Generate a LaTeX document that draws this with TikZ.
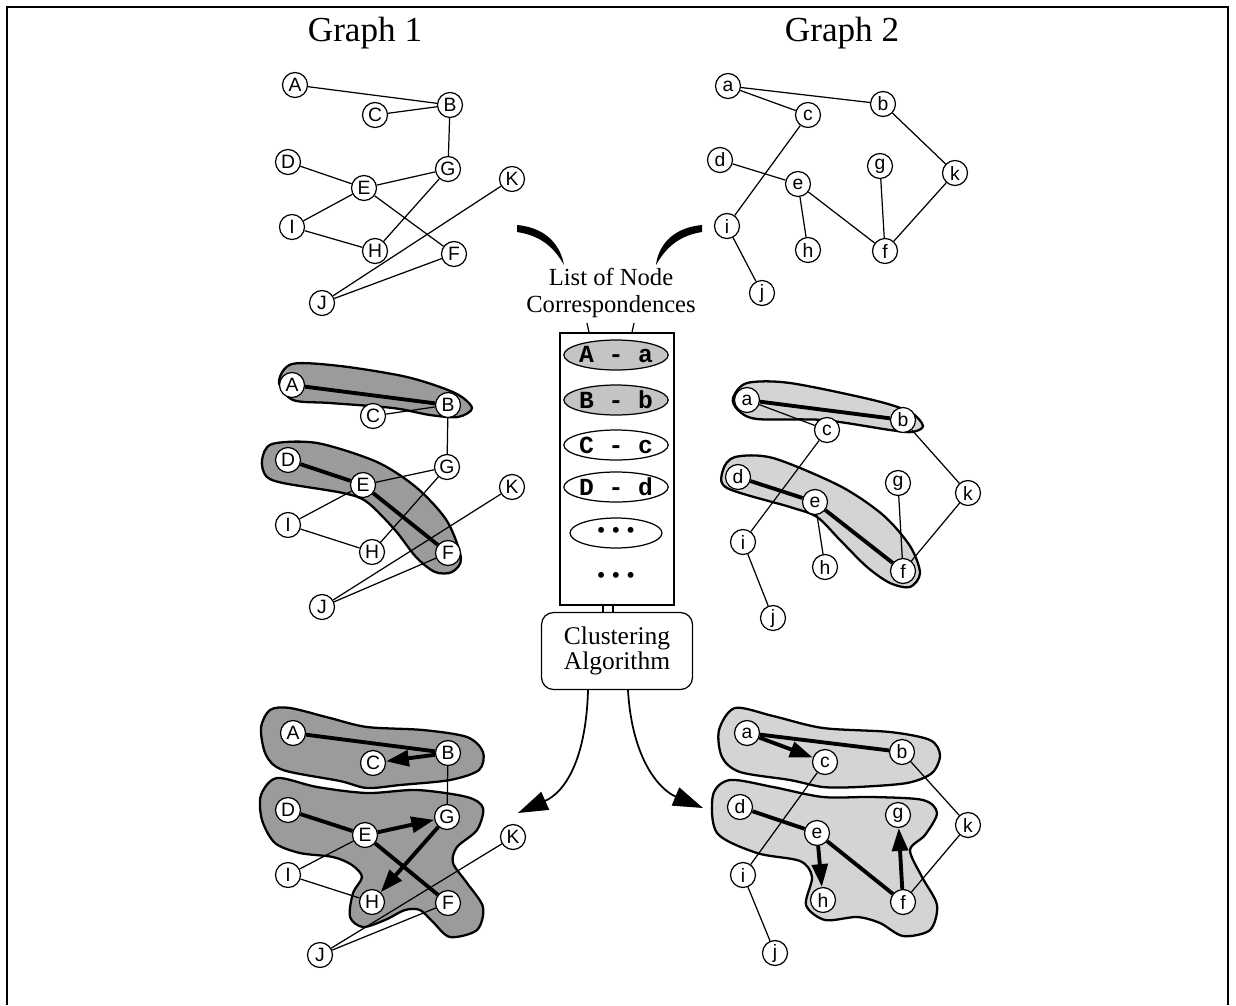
\documentclass[tikz,border=0pt]{standalone}
\usepackage{fontspec}
\setmainfont{Liberation Serif}
\setsansfont{Liberation Sans}
\setmonofont{Liberation Mono}
\usetikzlibrary{arrows.meta,shapes.geometric}
\definecolor{clusdark}{RGB}{155,155,155}
\definecolor{cluslight}{RGB}{212,212,212}
\definecolor{pairfill}{RGB}{196,196,196}

\begin{document}
\begin{tikzpicture}[
    x=0.02cm, y=-0.02cm,
    vert/.style={draw,circle,fill=white,inner sep=0pt,minimum size=0.5cm,line width=0.7pt,font=\sffamily\fontsize{11}{11}\selectfont},
    edge/.style={line width=0.7pt},
    match/.style={line width=2.2pt},
    move/.style={line width=2.2pt,-{Triangle[length=13pt,width=9pt]}},
    clusA/.style={draw,fill=clusdark,line width=1.3pt},
    clusB/.style={draw,fill=cluslight,line width=1.3pt},
    pair/.style={draw,ellipse,inner sep=0pt,minimum width=1.84cm,minimum height=0.6cm,line width=0.7pt,font=\ttfamily\bfseries\fontsize{14}{14}\selectfont},
    dots/.style={font=\fontsize{14}{14}\selectfont},
    title/.style={font=\fontsize{20}{24}\selectfont},
    lbl/.style={align=center,font=\fontsize{14}{15.3}\selectfont},
    flow/.style={line width=1pt,-{Triangle[length=17pt,width=11pt]}}
]
    \useasboundingbox (0,0) rectangle (1236,1005);
    \draw[line width=0.9pt] (7,1005) -- (7,7) -- (1228,7) -- (1228,1005);

    \node[title] (g1) at (365,33) {Graph 1};
    \node[title] (g2) at (842,33) {Graph 2};

    % clusters
    \draw[clusA] plot[smooth cycle] coordinates {(279,382) (292,364) (340,366) (407,377) (455,393) (472,408) (458,417) (430,415) (393,408) (330,403) (293,400)};
    \draw[clusA] plot[smooth cycle] coordinates {(262,460) (272,444) (317,443) (377,462) (417,488) (447,521) (461,558) (452,572) (435,572) (416,557) (395,530) (367,502) (343,493) (283,483) (266,476)};
    \draw[clusB] plot[smooth cycle] coordinates {(733,398) (747,383) (790,383) (873,400) (910,412) (923,426) (912,432) (890,430) (823,420) (757,419) (738,410)};
    \draw[clusB] plot[smooth cycle] coordinates {(723,470) (735,457) (773,458) (840,486) (883,515) (910,546) (920,573) (910,587) (890,583) (867,567) (840,540) (817,517) (790,507) (727,488)};
    \draw[clusA] plot[smooth cycle] coordinates {(261,728) (270,710) (290,708) (330,718) (367,727) (423,730) (467,737) (483,752) (479,770) (450,780) (400,785) (367,788) (340,781) (283,770) (266,755)};
    \draw[clusA] plot[smooth cycle] coordinates {(261,795) (277,778) (317,787) (367,793) (417,790) (467,797) (483,808) (477,830) (457,847) (453,863) (467,883) (483,907) (477,930) (450,937) (433,922) (420,910) (405,910) (385,920) (363,927) (350,917) (353,893) (362,877) (352,865) (333,857) (300,853) (275,843) (262,820)};
    \draw[clusB] plot[smooth cycle] coordinates {(719,730) (735,708) (773,716) (823,728) (890,732) (930,740) (940,755) (932,773) (907,783) (857,787) (823,787) (790,780) (740,772) (722,757)};
    \draw[clusB] plot[smooth cycle] coordinates {(713,795) (730,780) (773,787) (823,797) (873,797) (923,800) (937,813) (925,835) (910,850) (922,877) (937,905) (930,930) (903,936) (880,923) (857,917) (825,920) (806,905) (812,877) (800,861) (757,853) (717,833)};

    % graph 1
    \foreach \n/\x/\y in {A/295/85,B/450/105,C/375/115,D/288/162,E/364/188,G/448/169,K/512/179,I/292/227,H/375/251,F/454/254,J/322/303}
        \node[vert] (t\n) at (\x,\y) {\n};
    \foreach \n/\x/\y in {A/292/385,B/448/405,C/373/416,D/288/460,E/363/485,G/447/467,K/512/487,I/288/525,H/372/552,F/448/553,J/322/607}
        \node[vert] (m\n) at (\x,\y) {\n};
    \foreach \n/\x/\y in {A/293/733,B/448/753,C/373/763,D/288/810,E/365/835,G/447/817,K/513/837,I/288/875,H/372/902,F/448/903,J/320/955}
        \node[vert] (b\n) at (\x,\y) {\n};

    % graph 2
    \foreach \n/\x/\y in {a/728/86,b/883/104,c/808/115,d/720/160,e/798/184,g/880/166,k/955/173,i/727/226,h/808/250,f/885/251,j/762/293}
        \node[vert] (t\n) at (\x,\y) {\n};
    \foreach \n/\x/\y in {a/747/400,b/903/420,c/827/430,d/738/477,e/815/502,g/898/483,k/968/493,i/743/542,h/825/567,f/903/571,j/773/618}
        \node[vert] (m\n) at (\x,\y) {\n};
    \foreach \n/\x/\y in {a/747/733,b/902/752,c/825/762,d/740/807,e/817/833,g/898/815,k/968/825,i/743/875,h/823/900,f/903/902,j/775/953}
        \node[vert] (b\n) at (\x,\y) {\n};

    \foreach \u/\v in {A/B,C/B,B/G,D/E,E/G,E/I,E/F,I/H,H/G,J/K,J/F,a/b,a/c,c/i,d/e,e/h,e/f,g/f,b/k,k/f,i/j}
        \draw[edge] (t\u) -- (t\v);
    \foreach \u/\v in {C/B,B/G,E/G,E/I,I/H,H/G,J/K,J/F,a/c,c/i,e/h,g/f,b/k,k/f,i/j}
        \draw[edge] (m\u) -- (m\v);
    \foreach \u/\v in {A/B,D/E,E/F,a/b,d/e,e/f}
        \draw[match] (m\u) -- (m\v);
    \foreach \u/\v in {B/G,E/I,I/H,J/K,J/F,b/k,c/i,k/f,i/j}
        \draw[edge] (b\u) -- (b\v);
    \foreach \u/\v in {A/B,D/E,E/F,a/b,d/e,e/f}
        \draw[match] (b\u) -- (b\v);
    \foreach \u/\v in {B/C,E/G,G/H,a/c,e/h,f/g}
        \draw[move] (b\u) -- (b\v);

    % correspondence list
    \node[lbl] (corr) at (611,293) {List of Node\\Correspondences};
    \node[draw,line width=0.7pt,minimum width=2.28cm,minimum height=5.44cm] (list) at (617,469) {};
    \node[pair,fill=pairfill] (p1) at (616,355) {A - a};
    \node[pair,fill=pairfill] (p2) at (616,400) {B - b};
    \node[pair,fill=white] (p3) at (616,445) {C - c};
    \node[pair,fill=white] (p4) at (616,487) {D - d};
    \node[pair,fill=white,dots] (p5) at (616,533) {\textbullet\ \textbullet\ \textbullet};
    \node[dots] (p6) at (616,578) {\textbullet\ \textbullet\ \textbullet};
    \node[draw,rounded corners=0.24cm,line width=0.7pt,minimum width=3.02cm,minimum height=1.54cm,lbl,font=\fontsize{14.5}{14.5}\selectfont] (clust) at (617,651) {Clustering\\Algorithm};

    \fill (517,225) .. controls (549,228) and (561,248) .. (564,265) .. controls (556,251) and (544,236) .. (517,232) -- cycle;
    \fill (702,225) .. controls (670,228) and (658,248) .. (656,265) .. controls (664,251) and (676,236) .. (702,232) -- cycle;
    \coordinate (cl) at (587,323);
    \coordinate (cr) at (634,323);
    \draw[edge] (cl) -- ([xshift=-0.56cm]list.north);
    \draw[edge] (cr) -- ([xshift=0.3cm]list.north);
    \draw[edge] ([xshift=-0.28cm]list.south) -- ([xshift=-0.28cm]clust.north);
    \draw[edge] ([xshift=-0.08cm]list.south) -- ([xshift=-0.08cm]clust.north);

    \coordinate (outl) at (518,813);
    \coordinate (outr) at (703,808);
    \draw[flow] ([xshift=-0.58cm]clust.south) .. controls (586,760) and (565,792) .. (outl);
    \draw[flow] ([xshift=0.22cm]clust.south) .. controls (632,760) and (660,790) .. (outr);
\end{tikzpicture}
\end{document}
